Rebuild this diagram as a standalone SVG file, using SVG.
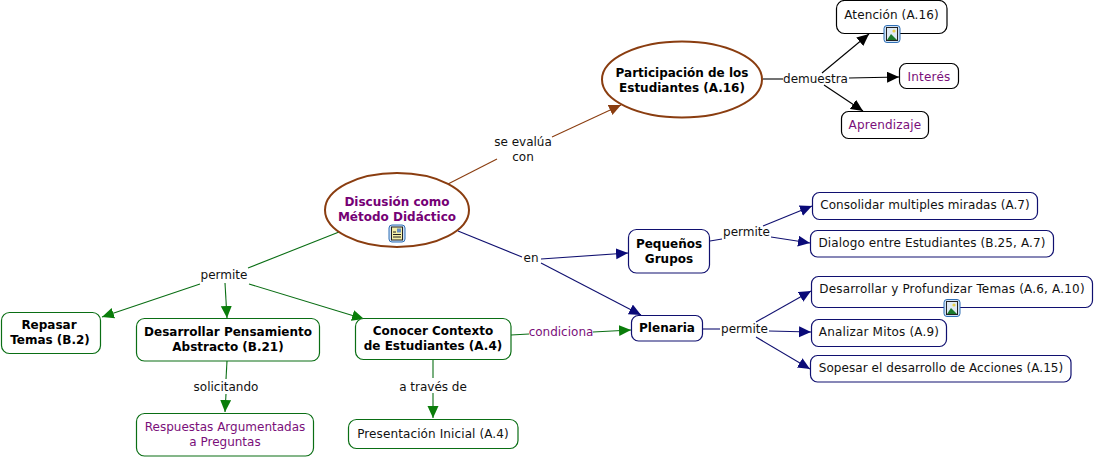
<svg xmlns="http://www.w3.org/2000/svg" width="1095" height="458" viewBox="0 0 1095 458">
<style>
text{font-family:"DejaVu Sans",Verdana,sans-serif;font-size:12px;text-anchor:middle;fill:#111}
.b{font-weight:bold;fill:#000}
.p{fill:#7a0f7a}
.bp{font-weight:bold;fill:#750075}
.w1{letter-spacing:.06px}
.w2{letter-spacing:.11px}
.w3{letter-spacing:.18px}
rect.n{fill:#fff;stroke-width:1.2}
.k{stroke:#000}.g{stroke:#0a6e14}.u{stroke:#101070}
line{fill:none;stroke-width:1.1}
.o{stroke:#8a3d10}
.ah-k{fill:#000}.ah-g{fill:#0a7d0a}.ah-u{fill:#0a0a78}.ah-o{fill:#8a3d10}
</style>
<defs>
<marker id="mk" markerUnits="userSpaceOnUse" markerWidth="14" markerHeight="12" refX="12" refY="5.5" orient="auto"><path class="ah-k" d="M0 0L12 5.5L0 11z"/></marker>
<marker id="mg" markerUnits="userSpaceOnUse" markerWidth="14" markerHeight="12" refX="12" refY="5.5" orient="auto"><path class="ah-g" d="M0 0L12 5.5L0 11z"/></marker>
<marker id="mu" markerUnits="userSpaceOnUse" markerWidth="14" markerHeight="12" refX="12" refY="5.5" orient="auto"><path class="ah-u" d="M0 0L12 5.5L0 11z"/></marker>
<marker id="mo" markerUnits="userSpaceOnUse" markerWidth="14" markerHeight="12" refX="12" refY="5.5" orient="auto"><path class="ah-o" d="M0 0L12 5.5L0 11z"/></marker>
<g id="imgicon"><rect x="-8" y="-8.500" width="16" height="17" rx="3" fill="#cfe2f7" stroke="#2f6fb5" stroke-width="1"/><rect x="-5.500" y="-6.500" width="11" height="13" fill="#dfeaf5" stroke="#222" stroke-width="1"/><path d="M-5 6L-1 0L5 6z" fill="#1c7a2c"/><circle cx="2" cy="-3" r="1.600" fill="#e8d04a"/></g>
</defs>
<g id="connectors">
<line class="o" x1="448" y1="184" x2="497" y2="159"/>
<line class="o" x1="552" y1="137" x2="621" y2="105" marker-end="url(#mo)"/>
<line class="k" x1="763" y1="79" x2="783" y2="79"/>
<line class="k" x1="822" y1="73" x2="869" y2="34" marker-end="url(#mk)"/>
<line class="k" x1="849" y1="78" x2="899" y2="77" marker-end="url(#mk)"/>
<line class="k" x1="824" y1="85" x2="863" y2="111" marker-end="url(#mk)"/>
<line class="u" x1="458" y1="231" x2="522" y2="257"/>
<line class="u" x1="541" y1="259" x2="628" y2="253" marker-end="url(#mu)"/>
<line class="u" x1="541" y1="263" x2="641" y2="315" marker-end="url(#mu)"/>
<line class="u" x1="710" y1="241" x2="722" y2="239"/>
<line class="u" x1="763" y1="226" x2="812" y2="206" marker-end="url(#mu)"/>
<line class="u" x1="771" y1="237" x2="810" y2="243" marker-end="url(#mu)"/>
<line class="u" x1="702" y1="329" x2="720" y2="329"/>
<line class="u" x1="756" y1="322" x2="811" y2="291" marker-end="url(#mu)"/>
<line class="u" x1="769" y1="331" x2="811" y2="332" marker-end="url(#mu)"/>
<line class="u" x1="756" y1="337" x2="810" y2="369" marker-end="url(#mu)"/>
<line class="g" x1="339" y1="232" x2="248" y2="268"/>
<line class="g" x1="200" y1="284" x2="102" y2="317" marker-end="url(#mg)"/>
<line class="g" x1="225" y1="283" x2="227" y2="318" marker-end="url(#mg)"/>
<line class="g" x1="249" y1="284" x2="364" y2="319" marker-end="url(#mg)"/>
<line class="g" x1="227" y1="361" x2="226" y2="379"/>
<line class="g" x1="226" y1="394" x2="225" y2="412" marker-end="url(#mg)"/>
<line class="g" x1="433" y1="360" x2="433" y2="378"/>
<line class="g" x1="433" y1="393" x2="433" y2="418" marker-end="url(#mg)"/>
<line class="g" x1="511" y1="335" x2="529" y2="334"/>
<line class="g" x1="593" y1="332" x2="631" y2="330" marker-end="url(#mg)"/>
</g>
<g id="link-labels">
<text x="523" y="146">se evalúa</text><text x="523" y="161">con</text>
<text x="815.500" y="83">demuestra</text>
<text x="531" y="262">en</text>
<text x="746.500" y="236">permite</text>
<text x="744.500" y="333">permite</text>
<text x="224" y="279">permite</text>
<text x="226" y="391">solicitando</text>
<text x="433" y="391">a través de</text>
<text class="p" x="561" y="336">condiciona</text>
</g>
<g id="n-participacion"><ellipse cx="682" cy="79.500" rx="80" ry="38" fill="#fff" stroke="#8a3d10" stroke-width="2"/><text class="b" x="682" y="77">Participación de los</text><text class="b" x="682" y="92">Estudiantes (A.16)</text></g>
<g id="n-discusion"><ellipse cx="397" cy="210" rx="72" ry="37" fill="#fff" stroke="#8a3d10" stroke-width="2"/><text class="bp" x="397" y="206">Discusión como</text><text class="bp" x="397" y="221">Método Didáctico</text>
<rect x="389" y="225" width="16" height="17" rx="3" fill="#cfe2f7" stroke="#2f6fb5"/><rect x="391.500" y="227" width="11" height="13" fill="#f5f0a8" stroke="#222"/><path d="M393 232h3M393 234.500h8M393 237h8" stroke="#222" fill="none"/><rect x="397" y="228.500" width="4" height="4" fill="#6a8fc0"/></g>
<g id="n-atencion"><rect class="n k" x="836.500" y="0.500" width="110.500" height="33" rx="8"/><text class="w2" x="891.500" y="19">Atención (A.16)</text><use href="#imgicon" x="892" y="34"/></g>
<g id="n-interes"><rect class="n k" x="899.500" y="63.500" width="59" height="25" rx="7"/><text class="p w3" x="929" y="81">Interés</text></g>
<g id="n-aprendizaje"><rect class="n k" x="841.500" y="111.500" width="87" height="27" rx="7"/><text class="p w3" x="885" y="128.500">Aprendizaje</text></g>
<g id="n-pequenos"><rect class="n u" x="628.500" y="229.500" width="81" height="43.500" rx="8"/><text class="b" x="669" y="248">Pequeños</text><text class="b" x="669" y="263">Grupos</text></g>
<g id="n-plenaria"><rect class="n u" x="631.500" y="315.500" width="71" height="25.500" rx="7"/><text class="b" x="667" y="332">Plenaria</text></g>
<g id="n-consolidar"><rect class="n u" x="812.500" y="192.500" width="225" height="27" rx="7"/><text class="w1" x="925" y="209">Consolidar multiples miradas (A.7)</text></g>
<g id="n-dialogo"><rect class="n u" x="810.500" y="230.500" width="243" height="26.500" rx="7"/><text class="w2" x="932" y="247">Dialogo entre Estudiantes (B.25, A.7)</text></g>
<g id="n-profundizar"><rect class="n u" x="811.500" y="276.500" width="281" height="31" rx="7"/><text class="w3" x="952" y="293">Desarrollar y Profundizar Temas (A.6, A.10)</text><use href="#imgicon" x="952" y="308"/></g>
<g id="n-mitos"><rect class="n u" x="811.500" y="319.500" width="135" height="27" rx="7"/><text class="w3" x="879" y="336">Analizar Mitos (A.9)</text></g>
<g id="n-sopesar"><rect class="n u" x="810.500" y="355.500" width="260.500" height="26.500" rx="7"/><text class="w1" x="941" y="372">Sopesar el desarrollo de Acciones (A.15)</text></g>
<g id="n-repasar"><rect class="n g" x="1.500" y="312.500" width="99" height="41" rx="8"/><text class="b" x="49" y="329">Repasar</text><text class="b" x="50" y="344">Temas (B.2)</text></g>
<g id="n-pensamiento"><rect class="n g" x="136.500" y="318.500" width="183" height="42.500" rx="8"/><text class="b" x="228" y="336">Desarrollar Pensamiento</text><text class="b" x="228" y="351">Abstracto (B.21)</text></g>
<g id="n-respuestas"><rect class="n g" x="136.500" y="413.500" width="177" height="42.500" rx="8"/><text class="p" x="225" y="431">Respuestas Argumentadas</text><text class="p" x="225" y="446">a Preguntas</text></g>
<g id="n-conocer"><rect class="n g" x="355.500" y="318.500" width="155.500" height="41" rx="8"/><text class="b" x="433" y="335">Conocer Contexto</text><text class="b" x="433" y="350">de Estudiantes (A.4)</text></g>
<g id="n-presentacion"><rect class="n g" x="348.500" y="419.500" width="169.500" height="29" rx="8"/><text class="w2" x="433" y="438">Presentación Inicial (A.4)</text></g>
</svg>
